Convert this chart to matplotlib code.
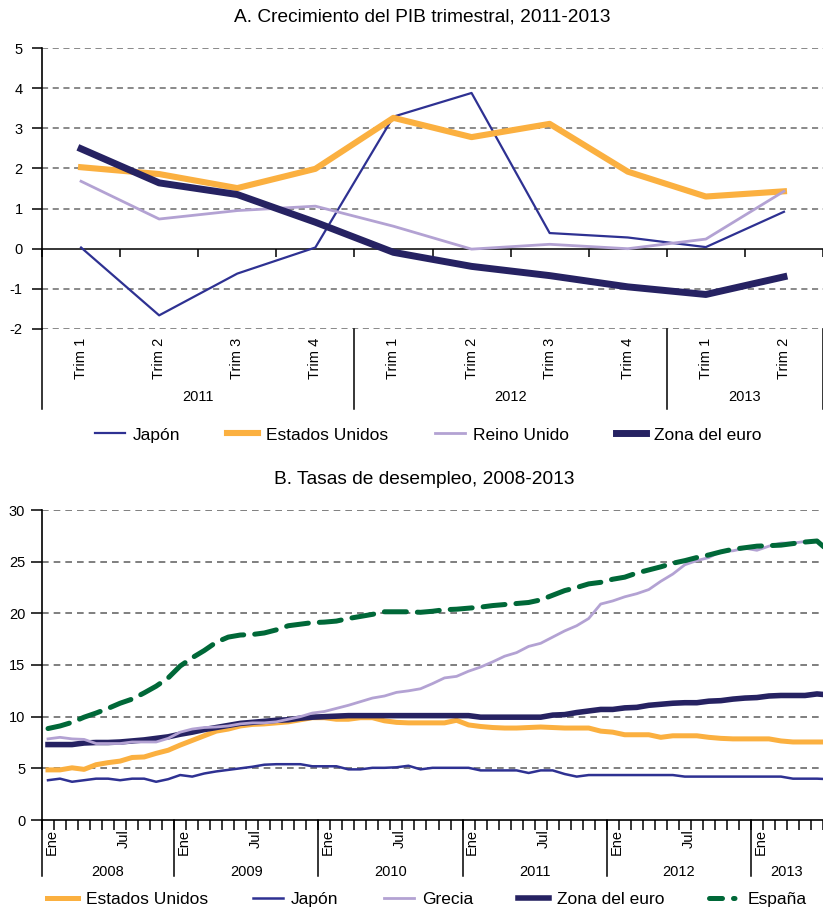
import matplotlib
matplotlib.use('Agg')
import matplotlib.pyplot as plt
import matplotlib.transforms as mtransforms
from matplotlib.lines import Line2D
import numpy as np

plt.rcParams['font.family'] = ['Liberation Sans', 'DejaVu Sans']

# ---------------- data: panel A ----------------
quarters = ['Trim 1', 'Trim 2', 'Trim 3', 'Trim 4',
            'Trim 1', 'Trim 2', 'Trim 3', 'Trim 4',
            'Trim 1', 'Trim 2']
q_years = ['2011', '2012', '2013']
q_year_sizes = [4, 4, 2]

japon_q = [0.03, -1.66, -0.62, 0.03, 3.29, 3.88, 0.39, 0.28, 0.04, 0.92]
eeuu_q = [2.03, 1.86, 1.51, 1.99, 3.26, 2.78, 3.11, 1.92, 1.30, 1.43]
ru_q = [1.68, 0.74, 0.95, 1.06, 0.56, -0.01, 0.11, 0.00, 0.24, 1.43]
euro_q = [2.49, 1.64, 1.35, 0.66, -0.09, -0.44, -0.67, -0.95, -1.14, -0.70]

# ---------------- data: panel B (monthly) ----------------
m_years = ['2008', '2009', '2010', '2011', '2012', '2013']
m_year_sizes = [11, 12, 12, 12, 12, 6]
m_labels_in_year = {0: 'Ene', 6: 'Jul'}

eeuu_m = [4.85, 4.85, 5.05, 4.9, 5.35, 5.55, 5.7, 6.05, 6.1, 6.45, 6.75, 7.25,
          7.7, 8.15, 8.6, 8.8, 9.1, 9.25, 9.3, 9.4, 9.5, 9.7, 9.9, 9.9,
          9.75, 9.75, 9.9, 9.9, 9.6, 9.45, 9.4, 9.4, 9.4, 9.4, 9.65, 9.2,
          9.05, 8.95, 8.9, 8.9, 8.95, 9.0, 8.95, 8.9, 8.9, 8.9, 8.6, 8.5,
          8.25, 8.25, 8.25, 8.0, 8.15, 8.15, 8.15, 8.0, 7.9, 7.85, 7.85, 7.85,
          7.85, 7.65, 7.55, 7.55, 7.55, 7.55]
japon_m = [3.85, 4.0, 3.7, 3.85, 4.0, 4.0, 3.85, 4.0, 4.0, 3.7, 3.95, 4.35,
           4.2, 4.5, 4.7, 4.85, 5.0, 5.15, 5.35, 5.4, 5.4, 5.4, 5.2, 5.2,
           5.2, 4.9, 4.9, 5.05, 5.05, 5.1, 5.25, 4.9, 5.05, 5.05, 5.05, 5.05,
           4.8, 4.8, 4.8, 4.8, 4.55, 4.8, 4.8, 4.45, 4.2, 4.35, 4.35, 4.35,
           4.35, 4.35, 4.35, 4.35, 4.35, 4.2, 4.2, 4.2, 4.2, 4.2, 4.2, 4.2,
           4.2, 4.2, 4.0, 4.0, 4.0, 3.95]
grecia_m = [7.85, 8.0, 7.85, 7.8, 7.4, 7.4, 7.4, 7.55, 7.55, 7.55, 7.9, 8.5,
            8.8, 8.95, 9.0, 9.1, 9.3, 9.4, 9.4, 9.5, 9.75, 10.0, 10.35, 10.5,
            10.8, 11.1, 11.45, 11.8, 12.0, 12.35, 12.5, 12.7, 13.2, 13.75, 13.9, 14.4,
            14.8, 15.3, 15.85, 16.2, 16.8, 17.1, 17.7, 18.3, 18.8, 19.5, 20.9, 21.2,
            21.6, 21.9, 22.3, 23.1, 23.8, 24.7, 25.1, 25.4, 26.0, 26.05, 26.3, 26.1,
            26.5, 26.8, 26.8, 26.95]
euro_m = [7.3, 7.3, 7.3, 7.45, 7.5, 7.5, 7.55, 7.65, 7.75, 7.9, 8.05, 8.3,
          8.5, 8.75, 8.95, 9.15, 9.35, 9.45, 9.55, 9.65, 9.7, 9.85, 9.95, 10.0,
          10.05, 10.1, 10.1, 10.1, 10.1, 10.1, 10.1, 10.1, 10.1, 10.1, 10.1, 10.1,
          9.95, 9.95, 9.95, 9.95, 9.95, 9.95, 10.15, 10.2, 10.4, 10.55, 10.7, 10.7,
          10.85, 10.9, 11.1, 11.2, 11.3, 11.35, 11.35, 11.5, 11.55, 11.7, 11.8, 11.85,
          12.0, 12.05, 12.05, 12.05, 12.2, 12.1]
espana_m = [8.85, 9.1, 9.45, 9.95, 10.35, 10.8, 11.3, 11.7, 12.3, 12.95, 13.75, 14.9,
            15.7, 16.4, 17.2, 17.7, 17.9, 17.95, 18.1, 18.4, 18.8, 18.95, 19.1, 19.15,
            19.25, 19.5, 19.7, 19.9, 20.15, 20.15, 20.15, 20.1, 20.2, 20.35, 20.4, 20.5,
            20.6, 20.75, 20.85, 20.95, 21.05, 21.3, 21.75, 22.2, 22.5, 22.85, 23.0, 23.3,
            23.5, 23.9, 24.2, 24.5, 24.85, 25.1, 25.4, 25.65, 25.95, 26.2, 26.35, 26.5,
            26.55, 26.6, 26.75, 26.9, 27.0, 26.0]

# ---------------- styles ----------------
C_JAP = '#2e3192'
C_USA = '#fbb040'
C_LAV = '#b3a2d3'
C_EUR = '#262262'
C_ESP = '#006838'
C_GRID = '#6a6a6a'

W, H = 823, 911
fig = plt.figure(figsize=(W / 100, H / 100), dpi=100)


def fx(px):
    return px / W


def fy(py):
    return 1 - py / H


TICK_FS = 10.5
LEG_FS = 12.5
TITLE_FS = 13.8

# ================= Panel A =================
a_left, a_right, a_top, a_bot = 42, 823, 48, 329
ax1 = fig.add_axes([fx(a_left), fy(a_bot), (a_right - a_left) / W, (a_bot - a_top) / H])
cat_w = 79.3
ax1.set_xlim(-0.5, -0.5 + (a_right - a_left) / cat_w)
ax1.set_ylim(-2, 5)
ax1.set_yticks(range(-2, 6))
ax1.set_yticklabels([str(v) for v in range(-2, 6)], fontsize=TICK_FS)
ax1.tick_params(axis='y', length=7, width=1.1, pad=7, color='black')
ax1.set_xticks(np.arange(-0.5, len(quarters) + 0.5, 1))
ax1.set_xticklabels([])
ax1.tick_params(axis='x', length=6, width=1.1, direction='out', color='black')
for s in ['top', 'right']:
    ax1.spines[s].set_visible(False)
ax1.spines['bottom'].set_position(('data', 0))
ax1.spines['bottom'].set_linewidth(1.1)
ax1.spines['left'].set_linewidth(1.2)
for yv in [-2, -1, 1, 2, 3, 4, 5]:
    ax1.axhline(yv, color=C_GRID, lw=1.1, ls=(0, (4, 3)), zorder=0.5)

xq = np.arange(len(quarters))
l_jap, = ax1.plot(xq, japon_q, color=C_JAP, lw=1.6, zorder=3)
l_usa, = ax1.plot(xq, eeuu_q, color=C_USA, lw=4.4, zorder=3, solid_joinstyle='round')
l_ru, = ax1.plot(xq, ru_q, color=C_LAV, lw=2.0, zorder=3)
l_eur, = ax1.plot(xq, euro_q, color=C_EUR, lw=5.0, zorder=3, solid_joinstyle='round')

trans1 = mtransforms.blended_transform_factory(ax1.transData, ax1.transAxes)
ah = a_bot - a_top
for i, lab in enumerate(quarters):
    ax1.text(i, -9 / ah, lab, rotation=90, ha='center', va='top',
             fontsize=TICK_FS, transform=trans1)
start = 0
bounds = [-0.5]
for yr, n in zip(q_years, q_year_sizes):
    ax1.text(start - 0.5 + n / 2, -68 / ah, yr, ha='center', va='center',
             fontsize=TICK_FS, transform=trans1)
    start += n
    bounds.append(start - 0.5)
for b in bounds:
    ax1.add_line(Line2D([b, b], [0, -80 / ah], color='black', lw=1.1,
                        transform=trans1, clip_on=False))

fig.text(fx(422), fy(17), 'A. Crecimiento del PIB trimestral, 2011-2013',
         ha='center', va='center', fontsize=TITLE_FS)

fig.legend([l_jap, l_usa, l_ru, l_eur],
           ['Japón', 'Estados Unidos', 'Reino Unido', 'Zona del euro'],
           loc='center', bbox_to_anchor=(fx(428), fy(435)), ncol=4, frameon=False,
           fontsize=LEG_FS, handlelength=1.75, handletextpad=0.45, columnspacing=2.7)

# ================= Panel B =================
b_left, b_right, b_top, b_bot = 42, 823, 510, 820
ax2 = fig.add_axes([fx(b_left), fy(b_bot), (b_right - b_left) / W, (b_bot - b_top) / H])
mw = 12.04
ax2.set_xlim(-0.5, -0.5 + (b_right - b_left) / mw)
ax2.set_ylim(0, 30)
ax2.set_yticks(range(0, 31, 5))
ax2.set_yticklabels([str(v) for v in range(0, 31, 5)], fontsize=TICK_FS)
ax2.tick_params(axis='y', length=8, width=1.1, pad=4, color='black')
nslots = sum(m_year_sizes)
ax2.set_xticks(np.arange(-0.5, nslots + 0.5, 1))
ax2.set_xticklabels([])
ax2.tick_params(axis='x', length=7, width=1.1, direction='out', color='black')
for s in ['top', 'right']:
    ax2.spines[s].set_visible(False)
ax2.spines['bottom'].set_linewidth(1.2)
ax2.spines['left'].set_linewidth(1.2)
for yv in range(5, 31, 5):
    ax2.axhline(yv, color=C_GRID, lw=1.2, ls=(0, (4, 3)), zorder=0.5)

ln_usa, = ax2.plot(np.arange(len(eeuu_m)), eeuu_m, color=C_USA, lw=3.6, zorder=3,
                   solid_joinstyle='round')
ln_jap, = ax2.plot(np.arange(len(japon_m)), japon_m, color=C_JAP, lw=1.8, zorder=3)
ln_eur, = ax2.plot(np.arange(len(euro_m)), euro_m, color=C_EUR, lw=4.0, zorder=3,
                   solid_joinstyle='round')
ln_gre, = ax2.plot(np.arange(len(grecia_m)), grecia_m, color=C_LAV, lw=2.0, zorder=3.5)
ln_esp, = ax2.plot(np.arange(len(espana_m)), espana_m, color=C_ESP, lw=3.6, zorder=4,
                   ls=(0, (4.4, 2.2)), dash_capstyle='round')

trans2 = mtransforms.blended_transform_factory(ax2.transData, ax2.transAxes)
bh = b_bot - b_top
start = 0
bounds = [-0.5]
for yr, n in zip(m_years, m_year_sizes):
    for off, lab in m_labels_in_year.items():
        if off < n:
            ax2.text(start + off + 0.3, -9 / bh, lab, rotation=90, ha='center', va='top',
                     fontsize=TICK_FS, transform=trans2)
    ax2.text(start - 0.5 + n / 2, -52 / bh, yr, ha='center', va='center',
             fontsize=TICK_FS, transform=trans2)
    start += n
    bounds.append(start - 0.5)
for b in bounds[:-1]:
    ax2.add_line(Line2D([b, b], [0, -56 / bh], color='black', lw=1.1,
                        transform=trans2, clip_on=False))

fig.text(fx(424), fy(480), 'B. Tasas de desempleo, 2008-2013',
         ha='center', va='center', fontsize=TITLE_FS)

esp_handle = Line2D([], [], color=C_ESP, lw=3.6, ls=(0, (2.6, 2.2, 0.3, 3.0)),
                    dash_capstyle='round')
fig.legend([ln_usa, ln_jap, ln_gre, ln_eur, esp_handle],
           ['Estados Unidos', 'Japón', 'Grecia', 'Zona del euro', 'España'],
           loc='center', bbox_to_anchor=(fx(427), fy(899)), ncol=5, frameon=False,
           fontsize=LEG_FS, handlelength=1.75, handletextpad=0.45, columnspacing=2.6)

fig.savefig('out.png', dpi=100)
